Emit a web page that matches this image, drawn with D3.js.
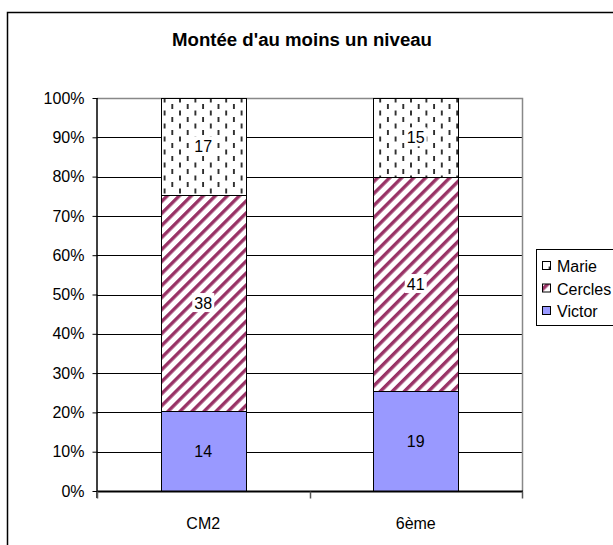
<!DOCTYPE html>
<html>
<head>
<meta charset="utf-8">
<script src="https://cdn.jsdelivr.net/npm/d3@7"></script>
<style>
  body { margin: 0; background: #fff; }
  svg { display: block; font-family: "Liberation Sans", Arial, sans-serif; }
</style>
</head>
<body>
<svg id="chart" width="613" height="545"></svg>
<script>
// Stacked 100% bars: counts per class level
const categories = ["CM2", "6ème"];
const series = ["Victor", "Cercles", "Marie"];
const victor = [14, 19];
const cercles = [38, 41];
const marie = [17, 15];
const yTicks = [0, 0.1, 0.2, 0.3, 0.4, 0.5, 0.6, 0.7, 0.8, 0.9, 1];
const title = "Montée d'au moins un niveau";

const values = { Victor: victor, Cercles: cercles, Marie: marie };
const rows = categories.map((c, i) => {
  const r = { cat: c };
  series.forEach(s => r[s] = values[s][i]);
  return r;
});

const svg = d3.select("#chart");
const defs = svg.append("defs");

// diagonal stripes for Cercles
const stripe = defs.append("pattern")
  .attr("id", "pStripe").attr("patternUnits", "userSpaceOnUse")
  .attr("width", 8.5).attr("height", 8.5)
  .attr("patternTransform", "rotate(45)");
stripe.append("rect").attr("width", 8.5).attr("height", 8.5).attr("fill", "#fff");
stripe.append("rect").attr("x", 0).attr("width", 3.4).attr("height", 8.5).attr("fill", "#993366");

// short vertical dashes for Marie
const dash = defs.append("pattern")
  .attr("id", "pDash").attr("patternUnits", "userSpaceOnUse")
  .attr("width", 15.4).attr("height", 13);
dash.append("rect").attr("width", 15.4).attr("height", 13).attr("fill", "#fff");
dash.append("rect").attr("x", 2).attr("y", 0).attr("width", 1.8).attr("height", 5).attr("fill", "#222");
dash.append("rect").attr("x", 9.7).attr("y", 6.5).attr("width", 1.8).attr("height", 5).attr("fill", "#222");

const fills = { Victor: "#9999FF", Cercles: "url(#pStripe)", Marie: "url(#pDash)" };

// outer chart frame
svg.append("rect").attr("x", 7.5).attr("y", 12.5).attr("width", 640).attr("height", 560)
  .attr("fill", "none").attr("stroke", "#000").attr("stroke-width", 1.5);

svg.append("text").attr("x", 302).attr("y", 46).attr("text-anchor", "middle")
  .attr("font-size", 18).attr("font-weight", "bold").attr("textLength", 260)
  .attr("lengthAdjust", "spacingAndGlyphs").text(title);

const plotLeft = 97, plotRight = 522, plotTop = 98, plotBottom = 491;
const x = d3.scaleBand().domain(categories).range([plotLeft, plotRight]).paddingInner(0.6).paddingOuter(0.3);
const y = d3.scaleLinear().domain([0, 1]).range([plotBottom, plotTop]);

// gridlines
svg.append("g").selectAll("line").data(yTicks.filter(t => t > 0 && t < 1)).join("line")
  .attr("x1", plotLeft).attr("x2", plotRight)
  .attr("y1", d => Math.round(y(d)) + 0.5).attr("y2", d => Math.round(y(d)) + 0.5)
  .attr("stroke", "#000");
// plot area border (top, right)
svg.append("path")
  .attr("d", `M${plotLeft},${plotTop + 0.5}H${plotRight + 0.5}V${plotBottom}`)
  .attr("fill", "none").attr("stroke", "#888").attr("stroke-width", 1.5);

const stack = d3.stack().keys(series).offset(d3.stackOffsetExpand);
const stacked = stack(rows);

const g = svg.append("g");
stacked.forEach(layer => {
  g.selectAll(null).data(layer).join("rect")
    .attr("x", d => Math.round(x(d.data.cat)) + 0.5)
    .attr("width", Math.round(x.bandwidth()))
    .attr("y", d => Math.round(y(d[1])) + 0.5)
    .attr("height", d => Math.round(y(d[0])) - Math.round(y(d[1])))
    .attr("fill", fills[layer.key])
    .attr("stroke", "#000").attr("stroke-width", 1);
});

// value labels
stacked.forEach(layer => {
  layer.forEach(d => {
    const cx = x(d.data.cat) + x.bandwidth() / 2;
    const cy = (y(d[0]) + y(d[1])) / 2;
    const txt = String(d.data[layer.key]);
    if (layer.key !== "Victor") {
      g.append("rect").attr("x", cx - 11).attr("y", cy - 10).attr("width", 22).attr("height", 19).attr("fill", "#fff");
    }
    g.append("text").attr("x", cx).attr("y", cy + 6).attr("text-anchor", "middle")
      .attr("font-size", 16).attr("fill", "#000").text(txt);
  });
});

// y axis
const yAxis = d3.axisLeft(y).tickValues(yTicks).tickFormat(d3.format(".0%")).tickSize(5).tickPadding(8);
const ya = svg.append("g").attr("transform", `translate(${plotLeft + 0.5},0)`).call(yAxis);
ya.select(".domain").attr("d", `M-0.5,${plotTop}V${plotBottom + 7}`).attr("stroke", "#000").attr("stroke-width", 1.5);
ya.selectAll(".tick line").attr("stroke", "#000");
ya.selectAll(".tick text").attr("font-size", 16).attr("fill", "#000")
  .attr("font-family", "Liberation Sans, Arial, sans-serif");

// x axis
const xa = svg.append("g").attr("transform", `translate(0,${plotBottom + 0.5})`);
xa.append("line").attr("x1", plotLeft).attr("x2", plotRight + 1).attr("stroke", "#000").attr("stroke-width", 2);
const tickXs = [plotLeft, (plotLeft + plotRight) / 2, plotRight];
xa.selectAll("line.t").data(tickXs).join("line").attr("class", "t")
  .attr("x1", d => Math.round(d) + 0.5).attr("x2", d => Math.round(d) + 0.5)
  .attr("y1", 0).attr("y2", 7).attr("stroke", "#555").attr("stroke-width", 1.5);
xa.selectAll("text").data(categories).join("text")
  .attr("x", d => x(d) + x.bandwidth() / 2).attr("y", 37)
  .attr("text-anchor", "middle").attr("font-size", 16).text(d => d);

// legend
const lg = svg.append("g");
lg.append("rect").attr("x", 536.5).attr("y", 249.5).attr("width", 100).attr("height", 76)
  .attr("fill", "#fff").attr("stroke", "#000");
series.slice().reverse().forEach((s, i) => {
  const ly = 266 + i * 22.5;
  lg.append("rect").attr("x", 542.5).attr("y", ly - 4.5).attr("width", 8).attr("height", 8)
    .attr("fill", fills[s]).attr("stroke", "#000");
  lg.append("text").attr("x", 557).attr("y", ly + 6).attr("font-size", 16).text(s);
});
</script>
</body>
</html>
